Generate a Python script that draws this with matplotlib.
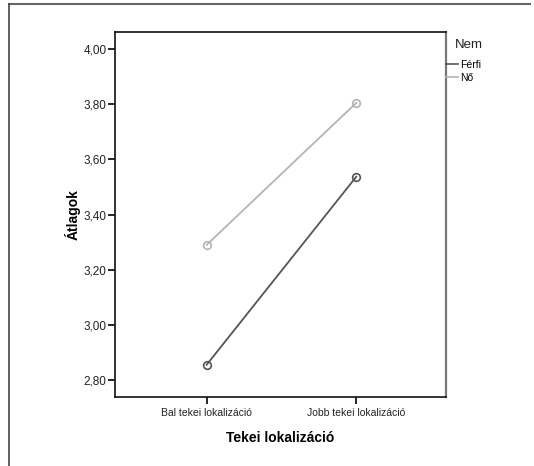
import matplotlib
matplotlib.use("Agg")
import matplotlib.pyplot as plt
from matplotlib.lines import Line2D
from matplotlib.ticker import FuncFormatter

plt.rcParams['font.family'] = ['Liberation Sans', 'DejaVu Sans']

categories = ["Bal tekei lokalizáció", "Jobb tekei lokalizáció"]
series_names = ["Férfi", "Nő"]
ferfi = [2.855, 3.537]
no = [3.290, 3.805]
yticks = [2.80, 3.00, 3.20, 3.40, 3.60, 3.80, 4.00]
colors = ["#555555", "#b4b4b4"]

W, H = 534, 466
fig = plt.figure(figsize=(W / 100, H / 100), dpi=100)
fig.patch.set_facecolor("white")

ax = fig.add_axes([115 / W, 1 - 397 / H, (446 - 115) / W, (397 - 32) / H])
x = list(range(len(categories)))
for vals, name, col in zip([ferfi, no], series_names, colors):
    ax.plot(x, vals, color=col, lw=1.3, marker='o', markersize=5.5,
            markerfacecolor='none', markeredgecolor=col, markeredgewidth=1.2,
            label=name)

ax.set_xlim(-0.613, 1.6)
ax.set_ylim(2.738, 4.062)
ax.set_xticks(x)
ax.set_xticklabels(categories, fontsize=7.5)
ax.set_yticks(yticks)
ax.yaxis.set_major_formatter(FuncFormatter(lambda v, p: f"{v:.2f}".replace('.', ',')))
ax.tick_params(axis='y', labelsize=8.5, length=5, width=1.2, direction='out', pad=1, colors='#000000', labelcolor='#222222')
ax.tick_params(axis='x', length=5, width=1.2, direction='out', pad=3, labelcolor='#222222')
for s in ax.spines.values():
    s.set_linewidth(1.2)
    s.set_color('#111111')
ax.spines['right'].set_color('#777777')
ax.spines['right'].set_linewidth(1.6)

ax.set_xlabel("Tekei lokalizáció", fontsize=10, fontweight='bold', labelpad=9)
ax.set_ylabel("Átlagok", fontsize=10, fontweight='bold', labelpad=2)

# legend title
fig.text(455 / W, 1 - 45 / H, "Nem", fontsize=9.5, ha='left', va='center', color='#222222')
handles = [Line2D([0], [0], color=c, lw=1.2) for c in colors]
leg = ax.legend(handles, series_names, loc='upper left',
                bbox_to_anchor=(1.0, 1 - 28 / 365), borderaxespad=0, frameon=False,
                fontsize=7.5, handlelength=1.2,
                handletextpad=0.15, labelspacing=0.25, borderpad=0.0)

# outer frame
fig.add_artist(Line2D([9 / W, 530 / W], [1 - 4 / H, 1 - 4 / H], color='#666666', lw=1.5))
fig.add_artist(Line2D([9 / W, 9 / W], [0, 1 - 4 / H], color='#444444', lw=1.2))

fig.savefig("out.png", dpi=100, facecolor='white')
